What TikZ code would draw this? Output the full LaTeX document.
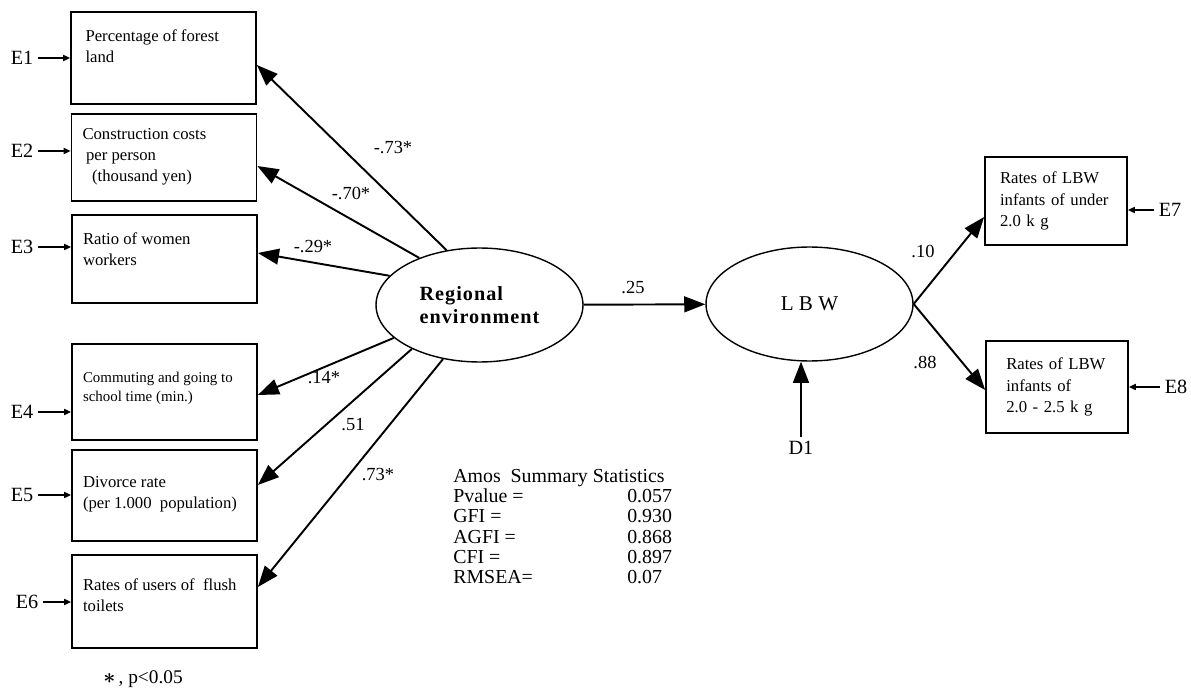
\documentclass[tikz,border=0pt]{standalone}
\usepackage{fontspec}
\setmainfont{Liberation Serif}
\usetikzlibrary{arrows.meta,shapes.geometric}

% text set in the upper part of an indicator box: height, top padding, lines
\newcommand{\boxtext}[3]{%
  \parbox[c][#1][t]{3.7cm}{\vspace*{#2}\hspace*{0.22cm}\parbox[t]{3.4cm}{#3}}}

\begin{document}
\begin{tikzpicture}[x=0.02cm, y=-0.02cm,
    varbox/.style={draw, line width=1pt, inner sep=0pt, font=\fontsize{9.5}{12}\selectfont},
    outbox/.style={draw, line width=1pt, inner xsep=0.3cm, text width=2.24cm, align=left,
                   font=\fontsize{9.5}{12}\selectfont},
    latent/.style={draw, ellipse, line width=0.8pt, minimum width=4.14cm, minimum height=2.28cm, inner sep=0pt},
    err/.style={font=\fontsize{11.5}{13}\selectfont, inner sep=2.5pt},
    effect/.style={line width=1.1pt, -{Triangle[length=12pt,width=9pt]}},
    errpath/.style={line width=0.8pt, -{Triangle[length=4pt,width=3.5pt]}},
    coef/.style={font=\fontsize{10.5}{12}\selectfont, inner sep=1pt}]

    \useasboundingbox (0,0) rectangle (1191,689);

    % observed indicators of the regional environment
    \node[varbox] (b1) at (163.5,58)    {\boxtext{1.84cm}{0.36cm}{\hspace*{2pt}Percentage of forest\\\hspace*{2pt}land}};
    \node[varbox] (b2) at (164,157.5)   {\boxtext{1.74cm}{0.29cm}{Construction costs\\\hspace*{2pt}per person\\\hspace*{5.5pt}(thousand yen)}};
    \node[varbox] (b3) at (164.5,259)   {\boxtext{1.76cm}{0.35cm}{Ratio of women\\workers}};
    \node[varbox, font=\fontsize{8.5}{10.8}\selectfont] (b4) at (164.5,392)
        {\boxtext{1.92cm}{0.56cm}{Commuting and going to\\school time (min.)}};
    \node[varbox] (b5) at (164.5,495.5) {\boxtext{1.82cm}{0.52cm}{Divorce rate\\(per 1.000\ \ population)}};
    \node[varbox] (b6) at (164.5,601.5) {\boxtext{1.86cm}{0.48cm}{Rates of users of\ \ flush\\toilets}};

    % error terms
    \node[err] (e1) at (22,58)  {E1};
    \node[err] (e2) at (22,151) {E2};
    \node[err] (e3) at (22,247) {E3};
    \node[err] (e4) at (22,412) {E4};
    \node[err] (e5) at (22,495) {E5};
    \node[err] (e6) at (27,602) {E6};
    \foreach \i in {1,...,6}
        \draw[errpath] (e\i.east) -- (b\i.west |- e\i.east);

    % latent variables
    \node[latent, font=\fontsize{11.5}{13}\selectfont\bfseries\addfontfeature{LetterSpace=5}, align=left]
        (re) at (479.5,305) {Regional\\environment};
    \node[latent, font=\fontsize{12}{14}\selectfont] (lbw) at (809.5,304) {L B W};
    \node[err] (d1) at (801,448) {D1};

    % outcome boxes
    \node[outbox, minimum height=1.76cm] (b7) at (1056,201) {Rates of LBW\\infants of under\\2.0 k g};
    \node[outbox, minimum height=1.84cm] (b8) at (1057,387) {\hspace*{3pt}Rates of LBW\\\hspace*{3pt}infants of\\\hspace*{3pt}2.0 - 2.5 k g};
    \node[err] (e7) at (1170,210) {E7};
    \node[err] (e8) at (1176,387) {E8};
    \draw[errpath] (e7.west) -- (b7.east |- e7.west);
    \draw[errpath] (e8.west) -- (b8.east |- e8.west);

    % loadings
    \draw[effect] (re.121) -- ([yshift=-0.14cm]b1.east);
    \draw[effect] (re.142) -- ([yshift=-0.17cm]b2.east);
    \draw[effect] (re.162) -- ([yshift=0.12cm]b3.east);
    \draw[effect] (re.201) -- ([yshift=-0.06cm]b4.east);
    \draw[effect] (re.213) -- ([yshift=0.21cm]b5.east);
    \draw[effect] (re.236) -- ([yshift=0.29cm]b6.east);
    \draw[effect] (re) -- (lbw);
    \draw[effect] (lbw.east) -- ([yshift=-0.32cm]b7.west);
    \draw[effect] (lbw.east) -- ([yshift=-0.06cm]b8.west);
    \draw[effect] (d1) -- (d1 |- lbw.south);

    % coefficients
    \node[coef] (c1) at (393,148) {-.73*};
    \node[coef] (c2) at (351,193) {-.70*};
    \node[coef] (c3) at (313,247) {-.29*};
    \node[coef] (c4) at (324,378) {.14*};
    \node[coef] (c5) at (353,425) {.51};
    \node[coef] (c6) at (378,475) {.73*};
    \node[coef] (c7) at (633,288) {.25};
    \node[coef] (c8) at (923,251) {.10};
    \node[coef] (c9) at (925,362) {.88};

    % fit statistics and note
    \node[anchor=north west, inner sep=0pt, font=\fontsize{11.3}{11.5}\selectfont] (stats) at (453,468)
        {\begin{tabular}{@{}p{3.48cm}@{}l@{}}
            \multicolumn{2}{@{}l@{}}{Amos\ \ Summary Statistics}\\
            Pvalue = & 0.057\\
            GFI = & 0.930\\
            AGFI = & 0.868\\
            CFI = & 0.897\\
            RMSEA= & 0.07
        \end{tabular}};
    \node[font=\fontsize{11}{13}\selectfont, inner sep=0pt] (note) at (143,679)
        {{\boldmath\large$\ast$}\,, p<0.05};
\end{tikzpicture}
\end{document}
